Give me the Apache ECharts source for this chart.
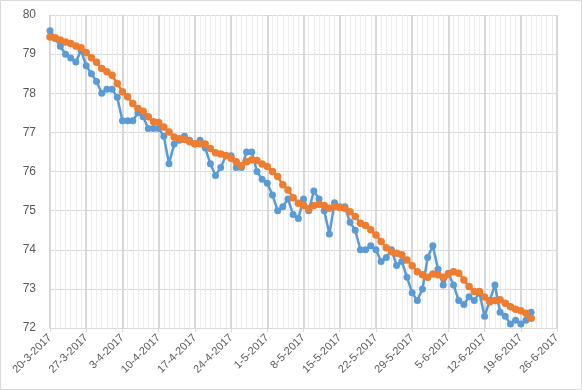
<!DOCTYPE html>
<html>
<head>
<meta charset="utf-8">
<script src="https://cdn.jsdelivr.net/npm/echarts@6/dist/echarts.min.js"></script>
<style>
html,body{margin:0;padding:0;background:#fff;}
#chart{width:582px;height:390px;}
</style>
</head>
<body>
<div id="chart"></div>
<script>
// Start date of day index 0
const startDate = [2017, 3, 20];
// Blue series: one value per day starting 20-3-2017
const blueValues = [
  79.6, 79.4, 79.2, 79.0, 78.9, 78.8, 79.1, 78.7, 78.5, 78.3,
  78.0, 78.1, 78.1, 77.9, 77.3, 77.3, 77.3, 77.5, 77.4, 77.1,
  77.1, 77.1, 76.9, 76.2, 76.7, 76.8, 76.9, 76.8, 76.7, 76.8,
  76.6, 76.2, 75.9, 76.1, 76.4, 76.4, 76.1, 76.1, 76.5, 76.5,
  76.0, 75.8, 75.7, 75.4, 75.0, 75.1, 75.3, 74.9, 74.8, 75.3,
  75.0, 75.5, 75.3, 75.0, 74.4, 75.2, 75.1, 75.1, 74.7, 74.5,
  74.0, 74.0, 74.1, 74.0, 73.7, 73.8, 74.0, 73.6, 73.7, 73.3,
  72.9, 72.7, 73.0, 73.8, 74.1, 73.5, 73.1, 73.4, 73.1, 72.7,
  72.6, 72.8, 72.7, 72.9, 72.3, 72.7, 73.1, 72.4, 72.3, 72.1,
  72.2, 72.1, 72.2, 72.4
];
// Orange series: smoothed trend, one value per day
const orangeValues = [
  79.44, 79.42, 79.36, 79.31, 79.27, 79.21, 79.16, 79.04, 78.91, 78.79,
  78.63, 78.55, 78.46, 78.25, 78.04, 77.91, 77.74, 77.61, 77.54, 77.40,
  77.27, 77.25, 77.14, 77.01, 76.88, 76.84, 76.82, 76.76, 76.71, 76.71,
  76.70, 76.59, 76.48, 76.45, 76.41, 76.34, 76.25, 76.15, 76.25, 76.30,
  76.28, 76.19, 76.13, 76.00, 75.87, 75.66, 75.53, 75.33, 75.19, 75.13,
  75.04, 75.13, 75.16, 75.13, 75.06, 75.10, 75.08, 75.06, 74.97, 74.85,
  74.68, 74.62, 74.51, 74.38, 74.21, 74.05, 73.95, 73.91, 73.87, 73.74,
  73.59, 73.44, 73.36, 73.30, 73.38, 73.36, 73.30, 73.38, 73.44, 73.40,
  73.23, 73.06, 72.93, 72.93, 72.79, 72.67, 72.70, 72.72, 72.63, 72.54,
  72.48, 72.44, 72.38, 72.25
];
// Axis settings (x in days from start)
const xMin = 0, xMax = 98, xStep = 7;
const yMin = 72, yMax = 80, yStep = 1;

function dayLabel(d) {
  const dt = new Date(Date.UTC(startDate[0], startDate[1] - 1, startDate[2] + d));
  return dt.getUTCDate() + '-' + (dt.getUTCMonth() + 1) + '-' + dt.getUTCFullYear();
}

const blueData = blueValues.map((v, i) => [i, v]);
const orangeData = orangeValues.map((v, i) => [i, v]);

const chart = echarts.init(document.getElementById('chart'), null, {renderer: 'canvas'});
const font = '"Liberation Sans", Arial, sans-serif';
chart.setOption({
  animation: false,
  backgroundColor: '#ffffff',
  graphic: [{
    type: 'rect', silent: true,
    shape: {x: 0.5, y: 0.5, width: 581, height: 389},
    style: {fill: 'none', stroke: '#d9d9d9', lineWidth: 1}
  }],
  grid: {left: 50, right: 25, top: 15, bottom: 62},
  xAxis: {
    type: 'value', min: xMin, max: xMax, interval: xStep,
    axisLine: {show: true, lineStyle: {color: '#d9d9d9', width: 1}},
    axisTick: {show: true, length: 4, lineStyle: {color: '#d9d9d9'}},
    minorTick: {show: false, splitNumber: 7},
    splitLine: {show: true, lineStyle: {color: '#d4d4d4', width: 1.8}},
    minorSplitLine: {show: true, lineStyle: {color: '#ebebeb', width: 1}},
    axisLabel: {
      rotate: 45, margin: 8, color: '#595959', fontSize: 11, fontFamily: font,
      formatter: v => dayLabel(v)
    }
  },
  yAxis: {
    type: 'value', min: yMin, max: yMax, interval: yStep,
    axisLine: {show: false},
    axisTick: {show: false},
    splitLine: {show: true, lineStyle: {color: '#d9d9d9', width: 1}},
    axisLabel: {margin: 14, color: '#595959', fontSize: 12, fontFamily: font}
  },
  series: [{
    type: 'line', data: blueData,
    symbol: 'circle', symbolSize: 7, showSymbol: true,
    lineStyle: {color: '#5b9bd5', width: 2.5},
    itemStyle: {color: '#5b9bd5'}
  }, {
    type: 'line', data: orangeData,
    symbol: 'circle', symbolSize: 7.5, showSymbol: true,
    lineStyle: {color: '#ed7d31', width: 2.5},
    itemStyle: {color: '#ed7d31'}
  }]
});
</script>
</body>
</html>
